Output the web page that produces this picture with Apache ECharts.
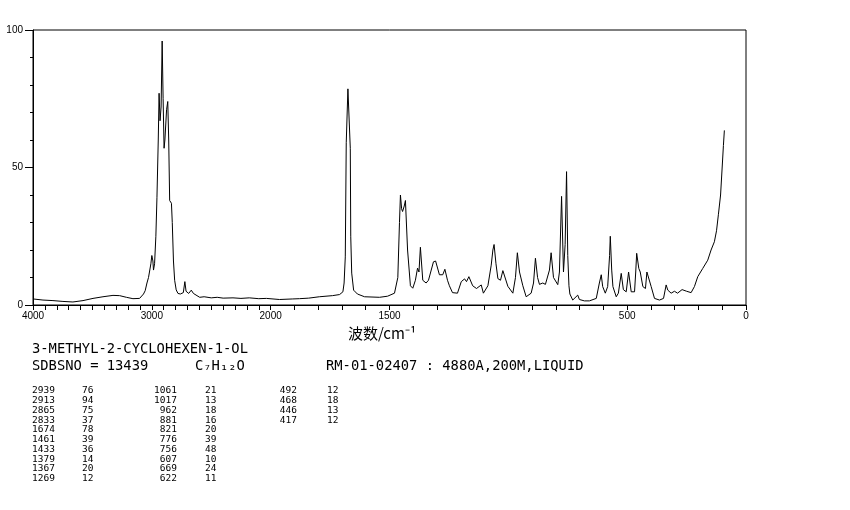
<!DOCTYPE html>
<html>
<head>
<meta charset="utf-8">
<script src="https://cdn.jsdelivr.net/npm/echarts@6/dist/echarts.min.js"></script>
<style>html,body{margin:0;padding:0;background:#fff}#c{width:850px;height:510px}</style>
</head>
<body>
<div id="c"></div>
<script>
// Spectrum values (wavenumber cm-1, intensity %)
var wavenumbers = [4000,3916,3832,3748,3664,3579,3495,3411,3327,3271,3214,3159,3103,3070,3056,3041,3028,3008,3000,2991,2986,2977,2966,2957,2946,2939,2931,2922,2913,2905,2897,2890,2876,2866,2858,2850,2835,2828,2818,2808,2795,2780,2760,2735,2722,2712,2690,2668,2650,2620,2597,2560,2500,2450,2400,2317,2250,2180,2100,2036,1963,1907,1879,1840,1795,1740,1710,1696,1691,1686,1682,1675,1671,1665,1663,1659,1651,1635,1605,1542,1508,1479,1465,1458,1454,1449,1445,1438,1433,1424,1412,1402,1391,1382,1376,1370,1360,1346,1336,1328,1315,1306,1298,1290,1276,1267,1256,1248,1235,1214,1198,1184,1176,1166,1150,1134,1114,1105,1086,1072,1065,1060,1052,1044,1033,1023,1016,1002,981,970,962,953,939,925,904,894,886,877,869,855,844,827,820,810,792,785,776,768,761,755,750,745,741,729,708,701,680,659,630,617,609,603,592,582,574,571,565,560,546,537,525,516,504,494,483,469,464,460,451,445,434,423,417,409,399,385,364,347,336,329,315,301,288,269,250,231,217,203,182,161,147,133,124,116,107,99,95,91];
var intensities = [2.2,1.8,1.6,1.3,1.1,1.6,2.4,3.0,3.5,3.4,2.8,2.3,2.4,4.0,5.2,8.0,10.0,15.0,18.0,16.0,12.7,15.0,25,39,60,77,67,72,96,75,57,60,71,74,60,38,37,30,16,9,5.5,4.2,4.0,4.5,8.5,5,4.2,5.4,4.2,3.4,2.8,3.0,2.6,2.8,2.5,2.6,2.4,2.6,2.3,2.4,2.0,2.2,2.3,2.5,3.0,3.4,3.8,4.8,8,17.5,59,78.6,78,57,24.8,11.6,5.4,4.0,3.0,2.8,3.2,4.3,10,30,40,35,34,36,38,20,7,6.1,9,13.4,12,21,9,8,9,8.5,15.7,16,15.5,11,11,13,9,7,4.5,4.3,8.5,9.5,8.5,10.3,7,6,7.3,4.3,7,14.5,20,22,15,9.6,9,12.5,13,6.8,4.3,10,19,12,7,3,4.3,8,17,10,7.5,8,7.5,12.7,19,10,7.4,12,39.5,12,22,48.5,18,7,4,1.8,3.6,2.0,1.5,1.5,2.4,8,11,6.7,4.3,6.7,18,25,12.7,6.7,3,4.3,11.5,5.6,4.8,12,4.8,4.8,12,18.8,13.3,12,6.7,6,12,11.5,6.7,2.4,1.8,2.4,7.3,5.4,4.3,5,4.3,5.6,5,4.5,6.7,10.3,13.3,16.3,20,23,27,33,40,52,58,63.5];

// Axis tick labels (wavenumbers)
var majorTickLabels = [4000, 3000, 2000, 1500, 500, 0];
var tickWavenumbers = [4000,3900,3800,3700,3600,3500,3400,3300,3200,3100,3000,2900,2800,2700,2600,2500,2400,2300,2200,2100,2000,1900,1800,1700,1600,1500,1400,1300,1200,1100,1000,900,800,700,600,500,400,300,200,100,0];
var yTickLabels = [0, 50, 100];

// Peak table
var peakCol1 = ['2939','2913','2865','2833','1674','1461','1433','1379','1367','1269'];
var peakInt1 = ['76','94','75','37','78','39','36','14','20','12'];
var peakCol2 = ['1061','1017','962','881','821','776','756','607','669','622'];
var peakInt2 = ['21','13','18','16','20','39','48','10','24','11'];
var peakCol3 = ['492','468','446','417'];
var peakInt3 = ['12','18','13','12'];

var compoundName = '3-METHYL-2-CYCLOHEXEN-1-OL';
var sdbsLine = 'SDBSNO = 13439';
var formula = 'C\u2087H\u2081\u2082O';
var measureLine = 'RM-01-02407 : 4880A,200M,LIQUID';
var xAxisTitle = '\u6ce2\u6570/cm\u207b\u00b9';

// Piecewise axis: 4000-2000 compressed by 2
function toT(w) { return w >= 2000 ? (4000 - w) / 2 : 1000 + (2000 - w); }
function toW(t) { return t <= 1000 ? 4000 - 2 * t : 2000 - (t - 1000); }

var data = wavenumbers.map(function (w, i) { return [toT(w), intensities[i]]; });
var majorT = majorTickLabels.map(toT);
var tickT = tickWavenumbers.map(toT);

var chart = echarts.init(document.getElementById('c'), null, {renderer: 'canvas'});
var smallFont = '9.5px "DejaVu Sans Mono"';
var midFont = '13.8px "DejaVu Sans Mono"';
var graphics = [
  {type:'text', x:348, y:333, style:{text:xAxisTitle, font:'15px "Noto Sans CJK SC"', fill:'#000', verticalAlign:'middle', textVerticalAlign:'middle'}},
  {type:'text', x:32, y:349, style:{text:compoundName, font:midFont, fill:'#000', verticalAlign:'middle', textVerticalAlign:'middle'}},
  {type:'text', x:32, y:366, style:{text:sdbsLine, font:midFont, fill:'#000', verticalAlign:'middle', textVerticalAlign:'middle'}},
  {type:'text', x:195, y:366, style:{text:formula, font:midFont, fill:'#000', verticalAlign:'middle', textVerticalAlign:'middle'}},
  {type:'text', x:326, y:366, style:{text:measureLine, font:midFont, fill:'#000', verticalAlign:'middle', textVerticalAlign:'middle'}}
];
function addCol(arr, x, align, yStart) {
  arr.forEach(function (s, i) {
    graphics.push({type:'text', x:x, y:yStart + i * 9.75, style:{text:s, font:smallFont, fill:'#000', align:align, textAlign:align, verticalAlign:'middle', textVerticalAlign:'middle'}});
  });
}
addCol(peakCol1, 55, 'right', 391);
addCol(peakInt1, 82, 'left', 391);
addCol(peakCol2, 177, 'right', 391);
addCol(peakInt2, 205, 'left', 391);
addCol(peakCol3, 297, 'right', 391);
addCol(peakInt3, 327, 'left', 391);

chart.setOption({
  animation: false,
  backgroundColor: '#fff',
  grid: {left: 33, right: 104, top: 30, bottom: 205, show: true, borderColor: '#000', borderWidth: 1, containLabel: false, outerBoundsMode: 'none'},
  xAxis: {
    type: 'value', min: 0, max: 3000, interval: 500,
    axisLine: {show: true, onZero: false, lineStyle: {color: '#000', width: 1}},
    axisTick: {show: true, length: 5, customValues: tickT, lineStyle: {color: '#000'}},
    axisLabel: {show: true, customValues: majorT, margin: 6, color: '#000', fontSize: 10, fontFamily: 'Liberation Sans', formatter: function (v) { return String(Math.round(toW(v))); }},
    splitLine: {show: false}
  },
  yAxis: {
    type: 'value', min: 0, max: 100, interval: 50,
    axisLine: {show: true, lineStyle: {color: '#000', width: 1}},
    axisTick: {show: true, length: 8, lineStyle: {color: '#000'}},
    minorTick: {show: true, splitNumber: 5, length: 3, lineStyle: {color: '#000'}},
    axisLabel: {margin: 10, color: '#000', fontSize: 10, fontFamily: 'Liberation Sans'},
    splitLine: {show: false}, minorSplitLine: {show: false}
  },
  series: [{
    type: 'line', data: data, showSymbol: false, symbol: 'none',
    lineStyle: {color: '#000', width: 1}, smooth: false
  }],
  graphic: graphics
});
</script>
</body>
</html>
